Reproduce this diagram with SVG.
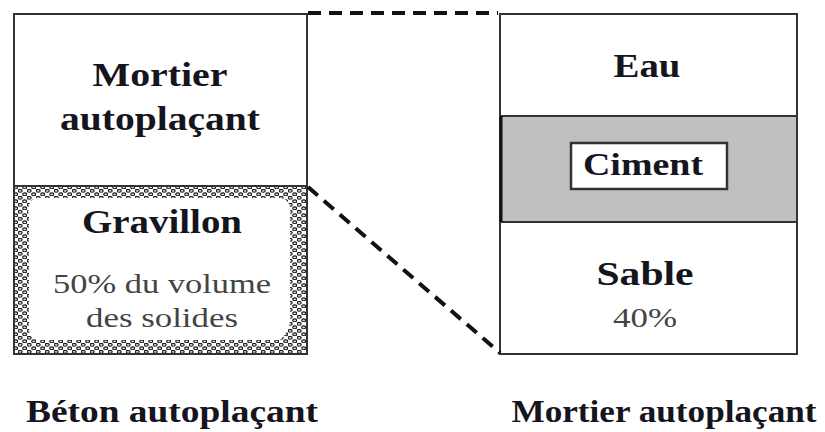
<svg xmlns="http://www.w3.org/2000/svg" width="825" height="432" viewBox="0 0 825 432">
<defs>
<pattern id="gravel" width="9" height="7" patternUnits="userSpaceOnUse">
<rect width="9" height="7" fill="#fff"/>
<ellipse cx="2.2" cy="1.8" rx="2" ry="1.4" fill="#d8d8d8" stroke="#1a1a1a" stroke-width="1.1"/>
<ellipse cx="6.7" cy="5.3" rx="2" ry="1.4" fill="#d8d8d8" stroke="#1a1a1a" stroke-width="1.1"/>
</pattern>
<style>
.box{fill:#fff;stroke:#333;stroke-width:2}
.b{font-family:"Liberation Serif","DejaVu Serif",serif;font-weight:bold;fill:#151520;text-anchor:middle}
.r{font-family:"Liberation Serif","DejaVu Serif",serif;fill:#444;text-anchor:middle}
.dash{fill:none;stroke:#111;stroke-width:4;stroke-dasharray:13 8}
</style>
</defs>
<rect width="825" height="432" fill="#fff"/>

<g id="beton">
<rect class="box" x="14" y="14" width="293" height="340"/>
<g id="mortier-part">
<text class="b" x="160" y="86" font-size="34" textLength="135" lengthAdjust="spacingAndGlyphs">Mortier</text>
<text class="b" x="160" y="130" font-size="34" textLength="200" lengthAdjust="spacingAndGlyphs">autoplaçant</text>
</g>
<g id="gravillon">
<path fill="url(#gravel)" fill-rule="evenodd" d="M15 187 H306 V353 H15 Z M36 198 H280 Q292 199 290 214 V312 Q292 330 280 340 H42 Q28 341 29 324 V216 Q26 201 36 198 Z"/>
<rect x="14" y="186" width="293" height="168" fill="none" stroke="#333" stroke-width="2"/>
<text class="b" x="162" y="233" font-size="34" textLength="160" lengthAdjust="spacingAndGlyphs">Gravillon</text>
<text class="r" x="162" y="293" font-size="27" textLength="218" lengthAdjust="spacingAndGlyphs">50% du volume</text>
<text class="r" x="162" y="327" font-size="27" textLength="152" lengthAdjust="spacingAndGlyphs">des solides</text>
</g>
</g>

<g id="mortier">
<rect class="box" x="500" y="14" width="297" height="340"/>
<g id="eau">
<text class="b" x="647" y="77" font-size="34" textLength="67" lengthAdjust="spacingAndGlyphs">Eau</text>
</g>
<g id="ciment-band">
<rect x="500" y="116" width="297" height="106" fill="#c0c0c0" stroke="#333" stroke-width="2"/>
<line x1="501" y1="116" x2="501" y2="222" stroke="#111" stroke-width="3"/>
</g>
<g id="ciment">
<rect x="571" y="143" width="156" height="46" fill="#fff" stroke="#333" stroke-width="2.5"/>
<text class="b" x="643" y="175" font-size="32" textLength="120" lengthAdjust="spacingAndGlyphs">Ciment</text>
</g>
<g id="sable">
<text class="b" x="645" y="285" font-size="34" textLength="97" lengthAdjust="spacingAndGlyphs">Sable</text>
<text class="r" x="645" y="327" font-size="27" textLength="64" lengthAdjust="spacingAndGlyphs">40%</text>
</g>
</g>

<g id="connectors">
<line class="dash" x1="308" y1="13" x2="498" y2="13"/>
<line class="dash" x1="308" y1="187" x2="500" y2="353"/>
</g>

<g id="captions">
<text class="b" x="172" y="422" font-size="31" textLength="292" lengthAdjust="spacingAndGlyphs">Béton autoplaçant</text>
<text class="b" x="664" y="422" font-size="31" textLength="305" lengthAdjust="spacingAndGlyphs">Mortier autoplaçant</text>
</g>
</svg>
